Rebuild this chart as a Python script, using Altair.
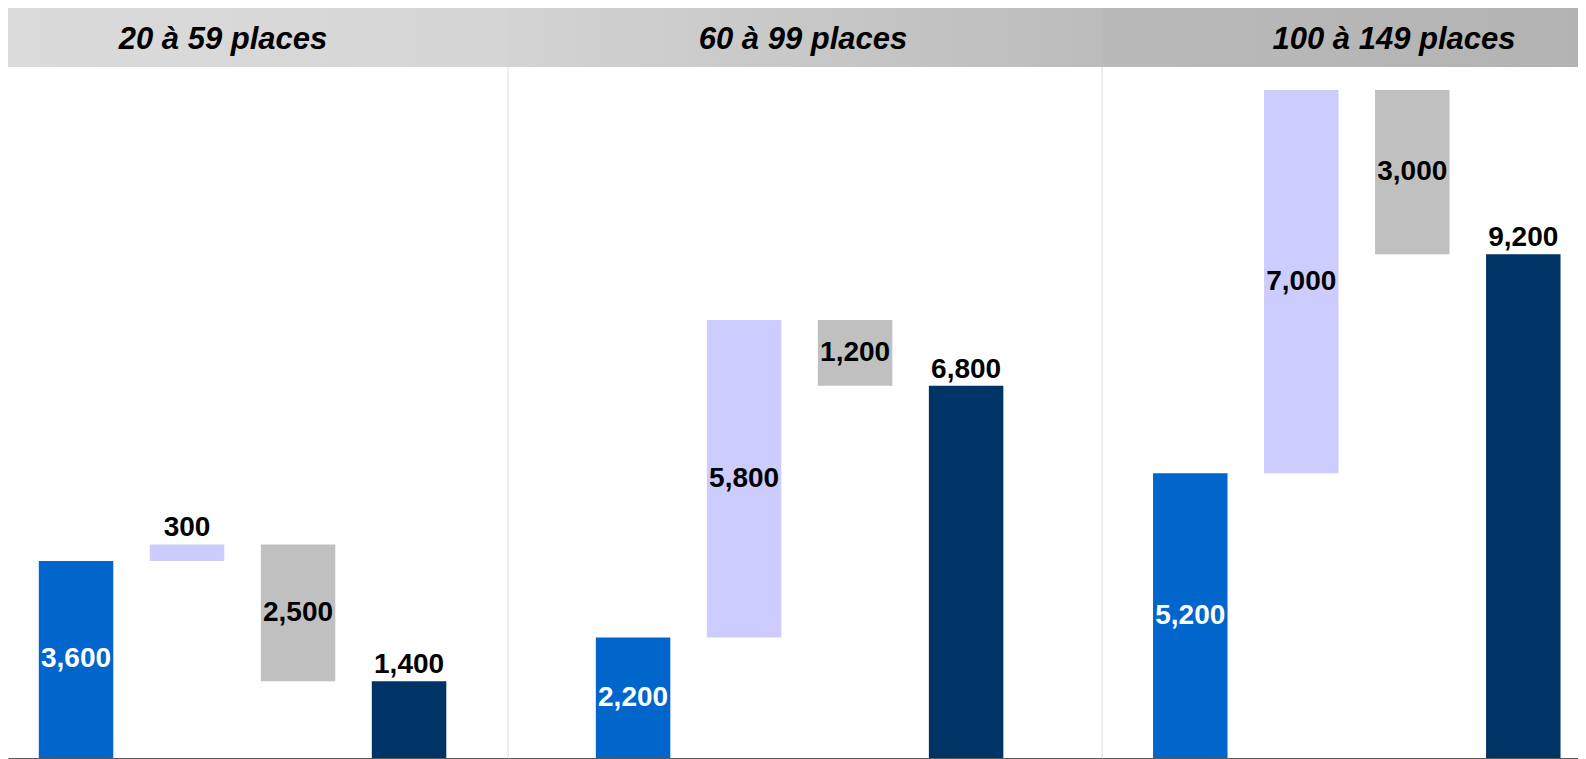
import altair as alt
import pandas as pd

# ---- data ----
groups = ["20 à 59 places", "60 à 99 places", "100 à 149 places"]
steps = ["Départ", "Hausse", "Baisse", "Arrivée"]
start_vals = [3600, 2200, 5200]
increase_vals = [300, 5800, 7000]
decrease_vals = [2500, 1200, 3000]
end_vals = [1400, 6800, 9200]

# ---- styling / layout ----
bar_colors = ["#0066CC", "#CCCCFF", "#C0C0C0", "#003366"]
label_colors = ["#FFFFFF", "#000000", "#000000", "#000000"]
FONT = "Liberation Sans"
H = 750
YMAX = 13700
HEADER_H = 59
panel_w = [500, 594, 476]
pad_outer = [0.4167, 0.840, 0.3086]
band_align = [0.333, 0.471, 0.745]
title_x = [215, 295, 292]
header_grad = [("#DBDBDB", "#D5D5D5"), ("#D3D3D3", "#BCBCBC"), ("#BABABA", "#B3B3B3")]


def panel(i):
    s, inc, dec, e = start_vals[i], increase_vals[i], decrease_vals[i], end_vals[i]
    df = pd.DataFrame({
        "step": steps,
        "y0": [0, s, s + inc - dec, 0],
        "y1": [s, s + inc, s + inc, e],
        "value": [s, inc, dec, e],
        "tcol": label_colors,
    })
    df["label"] = df["value"].map(lambda v: f"{v:,}")
    df["mid"] = (df["y0"] + df["y1"]) / 2
    pxu = H / YMAX
    df["inside"] = [True, inc * pxu > 40, dec * pxu > 40, False]

    x = alt.X("step:N", sort=steps,
              scale=alt.Scale(paddingInner=0.329, paddingOuter=pad_outer[i], align=band_align[i]),
              axis=alt.Axis(labels=False, ticks=False, title=None, domainColor="#595959",
                            domainWidth=1, grid=False))
    yscale = alt.Scale(domain=[0, YMAX], nice=False, zero=True)

    base = alt.Chart(df)
    bars = base.mark_bar().encode(
        x=x,
        y=alt.Y("y0:Q", scale=yscale, axis=None),
        y2="y1:Q",
        color=alt.Color("step:N", scale=alt.Scale(domain=steps, range=bar_colors), legend=None),
    )
    inside = base.transform_filter("datum.inside").mark_text(
        font=FONT, fontWeight="bold", fontSize=28, baseline="middle", align="center"
    ).encode(
        x=x,
        y=alt.Y("mid:Q", scale=yscale, axis=None),
        text="label:N",
        color=alt.Color("tcol:N", scale=None),
    )
    above = base.transform_filter("!datum.inside").mark_text(
        font=FONT, fontWeight="bold", fontSize=28, baseline="alphabetic", align="center",
        dy=-8, color="#000000"
    ).encode(
        x=x,
        y=alt.Y("y1:Q", scale=yscale, axis=None),
        text="label:N",
    )

    hdr_df = pd.DataFrame({"title": [groups[i]]})
    c0, c1 = header_grad[i]
    header = alt.Chart(hdr_df).mark_rect(
        color=alt.LinearGradient(gradient="linear",
                                 stops=[alt.GradientStop(offset=0, color=c0),
                                        alt.GradientStop(offset=1, color=c1)],
                                 x1=0, x2=1, y1=0, y2=0)
    ).encode(x=alt.value(0), x2=alt.value(panel_w[i]), y=alt.value(0), y2=alt.value(HEADER_H))
    title = alt.Chart(hdr_df).mark_text(
        font=FONT, fontWeight="bold", fontStyle="italic", fontSize=31,
        align="center", baseline="alphabetic", color="#000000"
    ).encode(x=alt.value(title_x[i]), y=alt.value(41), text="title:N")

    layers = [header]
    if i > 0:
        divider = alt.Chart(hdr_df).mark_rule(color="#DEDEDE", strokeWidth=1).encode(
            x=alt.value(0), y=alt.value(HEADER_H), y2=alt.value(H))
        layers.append(divider)
    layers += [bars, inside, above, title]
    return alt.layer(*layers).properties(width=panel_w[i], height=H)


chart = alt.hconcat(*[panel(i) for i in range(3)], spacing=0, bounds="flush").resolve_scale(
    x="independent"
).properties(padding=0).configure_view(stroke=None)

chart.save("out.html", embed_options={"renderer": "svg", "actions": False})
